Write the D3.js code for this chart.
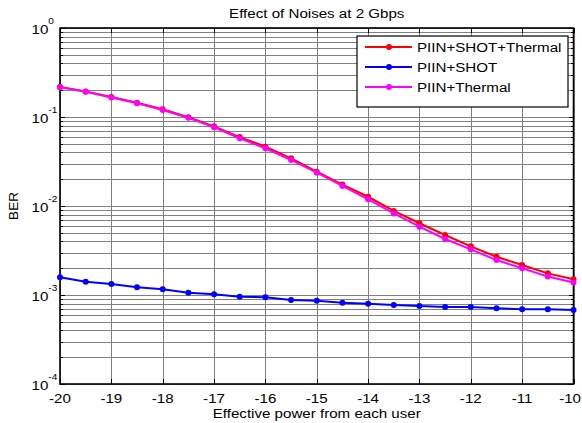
<!DOCTYPE html>
<html>
<head>
<meta charset="utf-8">
<script src="https://cdn.jsdelivr.net/npm/d3@7/dist/d3.min.js"></script>
<style>
  html, body { margin: 0; padding: 0; background: #fff; }
  svg { display: block; font-family: "Liberation Sans", Arial, sans-serif; }
</style>
</head>
<body>
<svg id="chart" width="582" height="423"></svg>
<script>
// Received optical power per user (x) and bit error rate for each noise mix
const powers = [-20, -19.5, -19, -18.5, -18, -17.5, -17, -16.5, -16, -15.5, -15,
                -14.5, -14, -13.5, -13, -12.5, -12, -11.5, -11, -10.5, -10];
const berAll = [0.218, 0.194, 0.168, 0.145, 0.122, 0.0995, 0.0785, 0.0595, 0.0464, 0.0343, 0.0243,
                0.0174, 0.0127, 0.00879, 0.00640, 0.00472, 0.00352, 0.00269, 0.00217, 0.00175, 0.00150];
const berShot = [0.00158, 0.00141, 0.00133, 0.00122, 0.00116, 0.00106, 0.00102, 0.000957, 0.000942, 0.000879, 0.000863,
                 0.000820, 0.000798, 0.000772, 0.000752, 0.000733, 0.000733, 0.000708, 0.000690, 0.000690, 0.000678];
const berThermal = [0.216, 0.192, 0.166, 0.143, 0.120, 0.098, 0.0766, 0.0577, 0.0445, 0.0329, 0.0237,
                    0.0168, 0.0119, 0.00826, 0.00586, 0.00426, 0.00326, 0.00247, 0.00200, 0.00161, 0.00138];
const seriesNames = ["PIIN+SHOT+Thermal", "PIIN+SHOT", "PIIN+Thermal"];
const seriesColors = ["#ff0000", "#0000ff", "#ff00ff"];
const xTicks = [-20, -19, -18, -17, -16, -15, -14, -13, -12, -11, -10];
const yDecades = [0, -1, -2, -3, -4];

const svg = d3.select("#chart");
const W = 582;
const plotLeft = 60, plotRight = 573.5, plotTop = 28, plotBottom = 384;
const fs = 13.5, sx = 1.12; // label font size and horizontal text stretch

const x = d3.scaleLinear().domain([-20, -10]).range([plotLeft, plotRight]);
const y = d3.scaleLog().domain([1e-4, 1]).range([plotBottom, plotTop]);

const at = (px, py) => `translate(${px},${py}) scale(${sx},1)`;

// minor values 1..9 in every decade
const minorVals = [];
for (let e = -4; e < 0; e++) for (let m = 1; m < 10; m++) minorVals.push(m * Math.pow(10, e));
minorVals.push(1);

// grid
const grid = svg.append("g").attr("stroke", "#808080").attr("stroke-width", 1).attr("shape-rendering", "crispEdges");
grid.selectAll("line.h").data(minorVals).join("line")
  .attr("x1", plotLeft).attr("x2", plotRight)
  .attr("y1", d => Math.round(y(d)) + 0.5).attr("y2", d => Math.round(y(d)) + 0.5);
grid.selectAll("line.v").data(xTicks).join("line")
  .attr("y1", plotTop).attr("y2", plotBottom)
  .attr("x1", d => Math.round(x(d)) + 0.5).attr("x2", d => Math.round(x(d)) + 0.5);

// axis ticks (inward, on all four sides)
const ticks = svg.append("g").attr("stroke", "#000").attr("stroke-width", 1).attr("shape-rendering", "crispEdges");
const tickLen = d => (Math.abs(Math.log10(d) - Math.round(Math.log10(d))) < 1e-9 ? 5 : 3);
ticks.selectAll("line.yl").data(minorVals).join("line")
  .attr("x1", plotLeft).attr("x2", d => plotLeft + tickLen(d))
  .attr("y1", d => Math.round(y(d)) + 0.5).attr("y2", d => Math.round(y(d)) + 0.5);
ticks.selectAll("line.yr").data(minorVals).join("line")
  .attr("x1", plotRight).attr("x2", d => plotRight - tickLen(d))
  .attr("y1", d => Math.round(y(d)) + 0.5).attr("y2", d => Math.round(y(d)) + 0.5);
ticks.selectAll("line.xb").data(xTicks).join("line")
  .attr("y1", plotBottom).attr("y2", plotBottom - 5)
  .attr("x1", d => Math.round(x(d)) + 0.5).attr("x2", d => Math.round(x(d)) + 0.5);
ticks.selectAll("line.xt").data(xTicks).join("line")
  .attr("y1", plotTop).attr("y2", plotTop + 5)
  .attr("x1", d => Math.round(x(d)) + 0.5).attr("x2", d => Math.round(x(d)) + 0.5);

// box
svg.append("rect").attr("x", plotLeft).attr("y", plotTop)
  .attr("width", plotRight - plotLeft).attr("height", plotBottom - plotTop)
  .attr("fill", "none").attr("stroke", "#000").attr("stroke-width", 1.6);

// series
const seriesData = [berAll, berShot, berThermal];
const line = d3.line().x(d => x(d[0])).y(d => y(d[1]));
seriesData.forEach((vals, i) => {
  const pts = powers.map((p, j) => [p, vals[j]]);
  const g = svg.append("g");
  g.append("path").datum(pts).attr("d", line)
    .attr("fill", "none").attr("stroke", seriesColors[i]).attr("stroke-width", 2);
  g.selectAll("circle").data(pts).join("circle")
    .attr("cx", d => x(d[0])).attr("cy", d => y(d[1])).attr("r", 3)
    .attr("fill", seriesColors[i]);
});

// x tick labels (the rightmost one is kept inside the canvas)
svg.append("g").selectAll("text").data(xTicks).join("text")
  .attr("font-size", fs).attr("text-anchor", "middle")
  .text(d => d)
  .each(function (d) {
    const half = this.getComputedTextLength() * sx / 2;
    const cx = Math.min(x(d), W - 1 - half);
    d3.select(this).attr("transform", at(cx, 402.5));
  });

// y tick labels as powers of ten
const yl = svg.append("g").selectAll("text").data(yDecades).join("text")
  .attr("transform", d => at(31.5, y(Math.pow(10, d)) + 6))
  .attr("font-size", fs);
yl.append("tspan").text("10");
yl.append("tspan").attr("dy", -10).attr("font-size", 9).text(d => d === 0 ? "0" : "-" + (-d));

// title and axis labels
svg.append("text").attr("transform", at((plotLeft + plotRight) / 2, 18))
  .attr("text-anchor", "middle").attr("font-size", fs).text("Effect of Noises at 2 Gbps");
svg.append("text").attr("transform", at((plotLeft + plotRight) / 2, 418))
  .attr("text-anchor", "middle").attr("font-size", fs).text("Effective power from each user");
svg.append("text").attr("transform", `translate(18,${(plotTop + plotBottom) / 2}) rotate(-90)`)
  .attr("text-anchor", "middle").attr("font-size", fs).text("BER");

// legend
const lg = svg.append("g");
lg.append("rect").attr("x", 357).attr("y", 36).attr("width", 211).attr("height", 71)
  .attr("fill", "#fff").attr("stroke", "#000").attr("stroke-width", 1.2);
seriesNames.forEach((name, i) => {
  const cy = 47 + i * 20;
  lg.append("line").attr("x1", 365).attr("x2", 412).attr("y1", cy).attr("y2", cy)
    .attr("stroke", seriesColors[i]).attr("stroke-width", 2);
  lg.append("circle").attr("cx", 389).attr("cy", cy).attr("r", 3).attr("fill", seriesColors[i]);
  lg.append("text").attr("transform", at(417, cy + 5)).attr("font-size", fs).text(name);
});
</script>
</body>
</html>
